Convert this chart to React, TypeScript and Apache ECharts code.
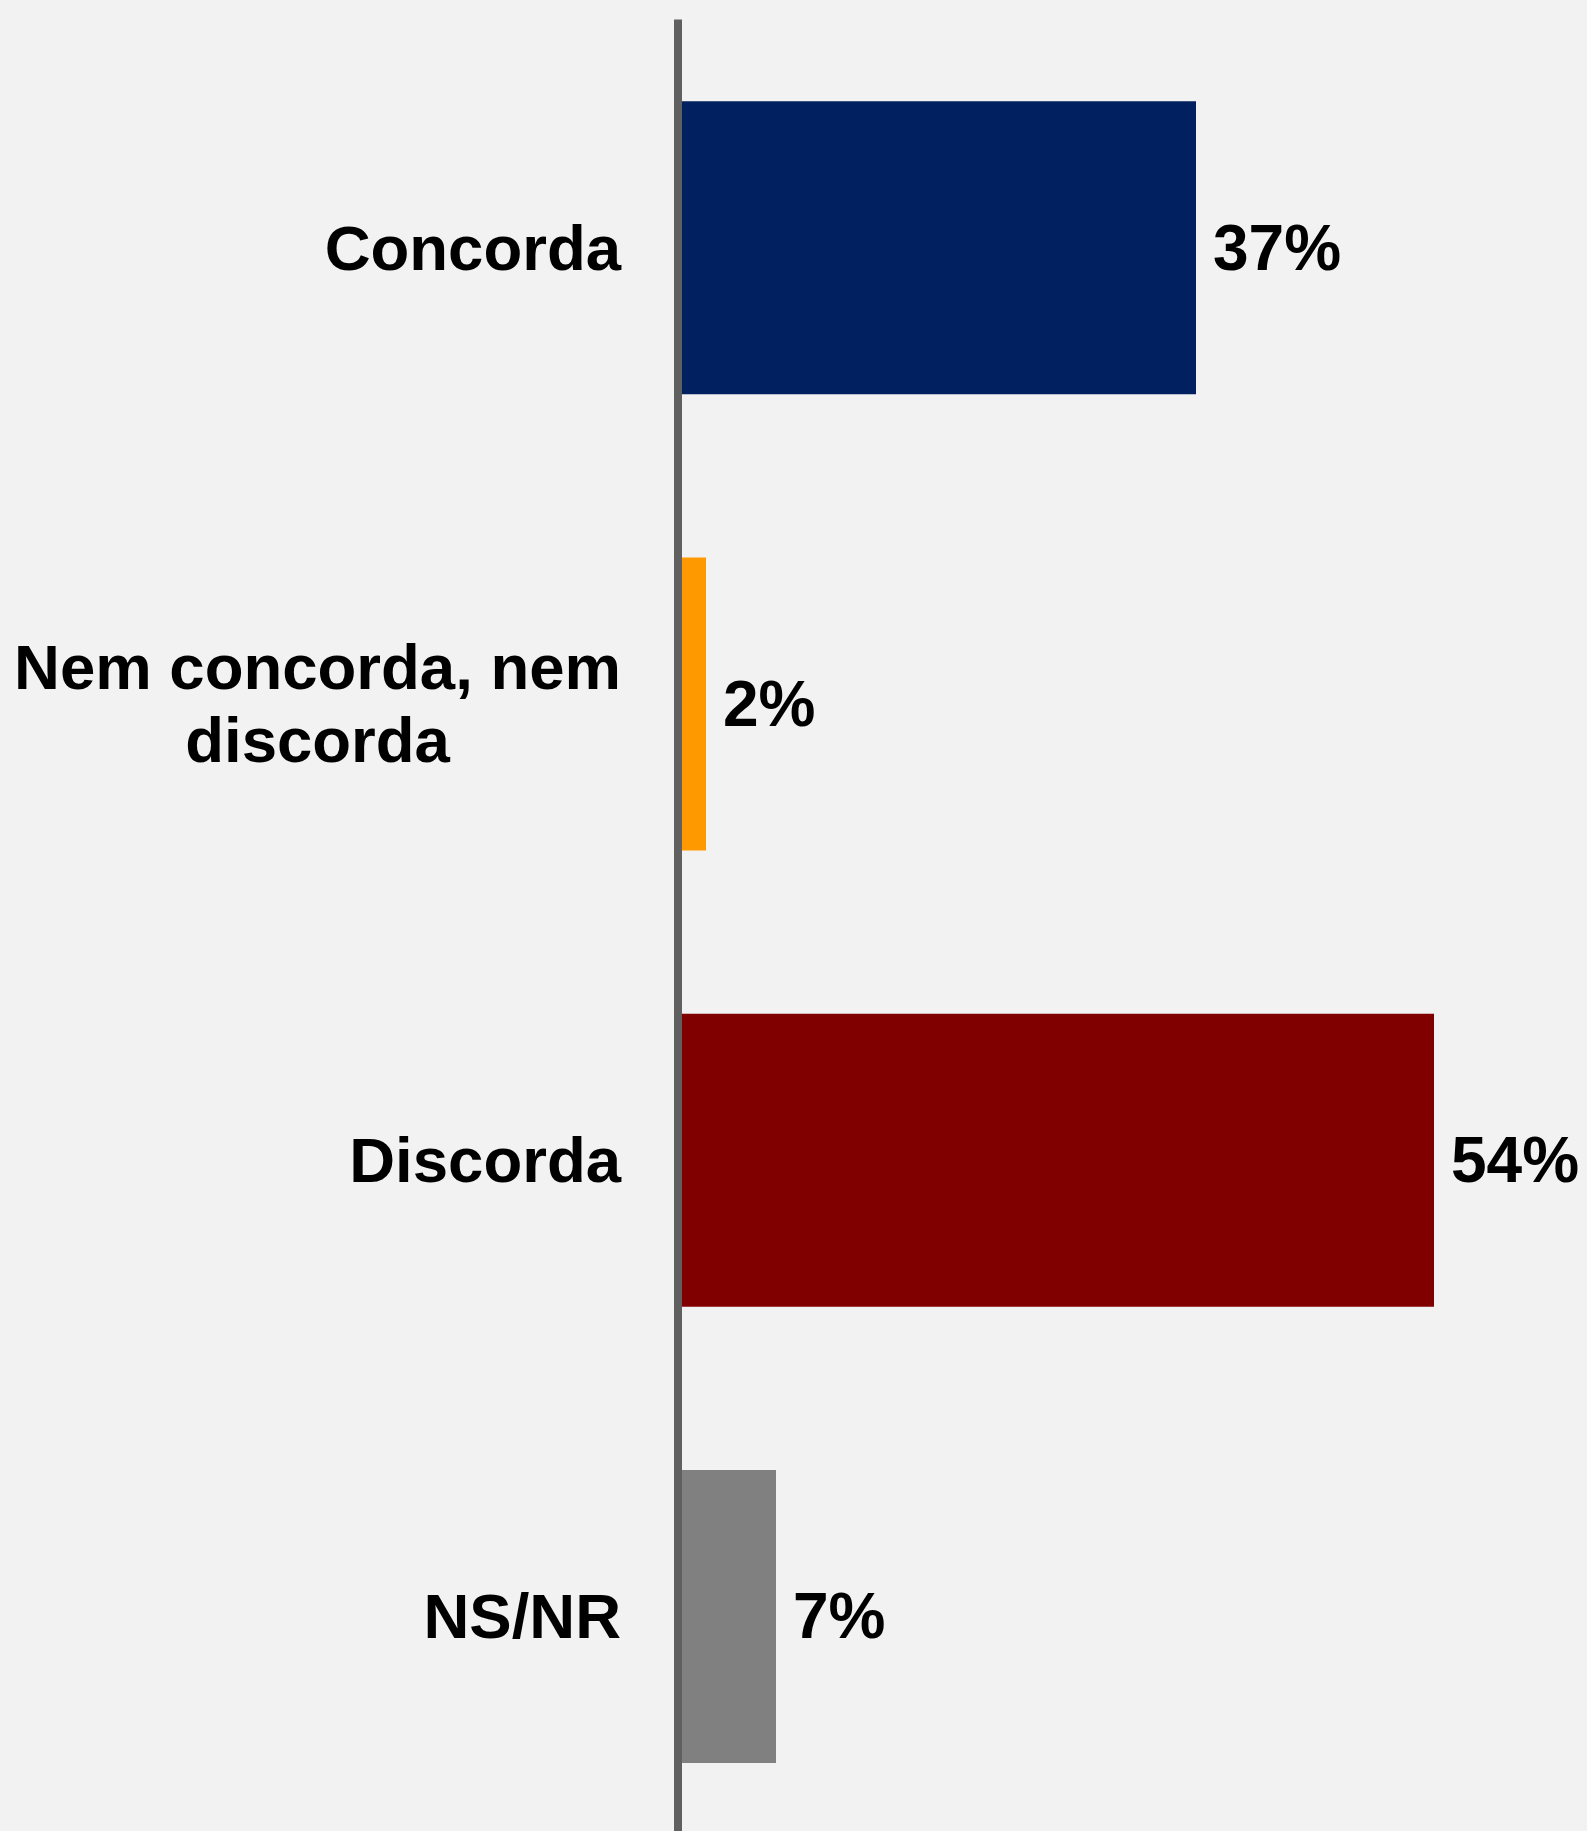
import React, { useEffect, useRef } from "react";
import * as echarts from "echarts";

const categories = ["Concorda", "Nem concorda, nem discorda", "Discorda", "NS/NR"];
const values = [37, 2, 54, 7];
const barColors = ["#002060", "#FF9900", "#800000", "#808080"];

export default function App() {
  const ref = useRef<HTMLDivElement>(null);
  useEffect(() => {
    if (!ref.current) return;
    document.body.style.overflow = "hidden";
    document.documentElement.style.overflow = "hidden";
    const chart = echarts.init(ref.current, null, { renderer: "svg" });
    const font = "'Liberation Sans', Arial, sans-serif";
    chart.setOption({
      animation: false,
      backgroundColor: "#F2F2F2",
      grid: { left: 678, width: 840, top: 19.5, bottom: 0.5, outerBoundsMode: "none" },
      xAxis: {
        type: "value",
        min: 0,
        max: 60,
        show: false,
        splitLine: { show: false },
      },
      yAxis: {
        type: "category",
        inverse: true,
        data: categories,
        z: 10,
        axisLine: { show: true, lineStyle: { color: "#606060", width: 8, cap: "butt" } },
        axisTick: { show: false },
        splitLine: { show: false },
        axisLabel: {
          margin: 57,
          formatter: (v: string) =>
            v
              .replace("nem discorda", "nem\ndiscorda")
              .split("\n")
              .map((l) => `{c|${l}}`)
              .join("\n"),
          rich: {
            c: {
              align: "center",
              fontSize: 63.5,
              fontWeight: "bold",
              fontFamily: font,
              color: "#000000",
              lineHeight: 73,
            },
          },
        },
      },
      series: [
        {
          type: "bar",
          barWidth: 293,
          data: values.map((v, i) => ({ value: v, itemStyle: { color: barColors[i] } })),
          label: {
            show: true,
            position: "right",
            distance: 17,
            formatter: "{c}%",
            fontSize: 64,
            fontWeight: "bold",
            fontFamily: font,
            color: "#000000",
          },
        },
      ],
    });
    return () => chart.dispose();
  }, []);
  return (
    <div
      ref={ref}
      style={{ position: "absolute", left: 0, top: 0, width: 1587, height: 1845 }}
    />
  );
}
